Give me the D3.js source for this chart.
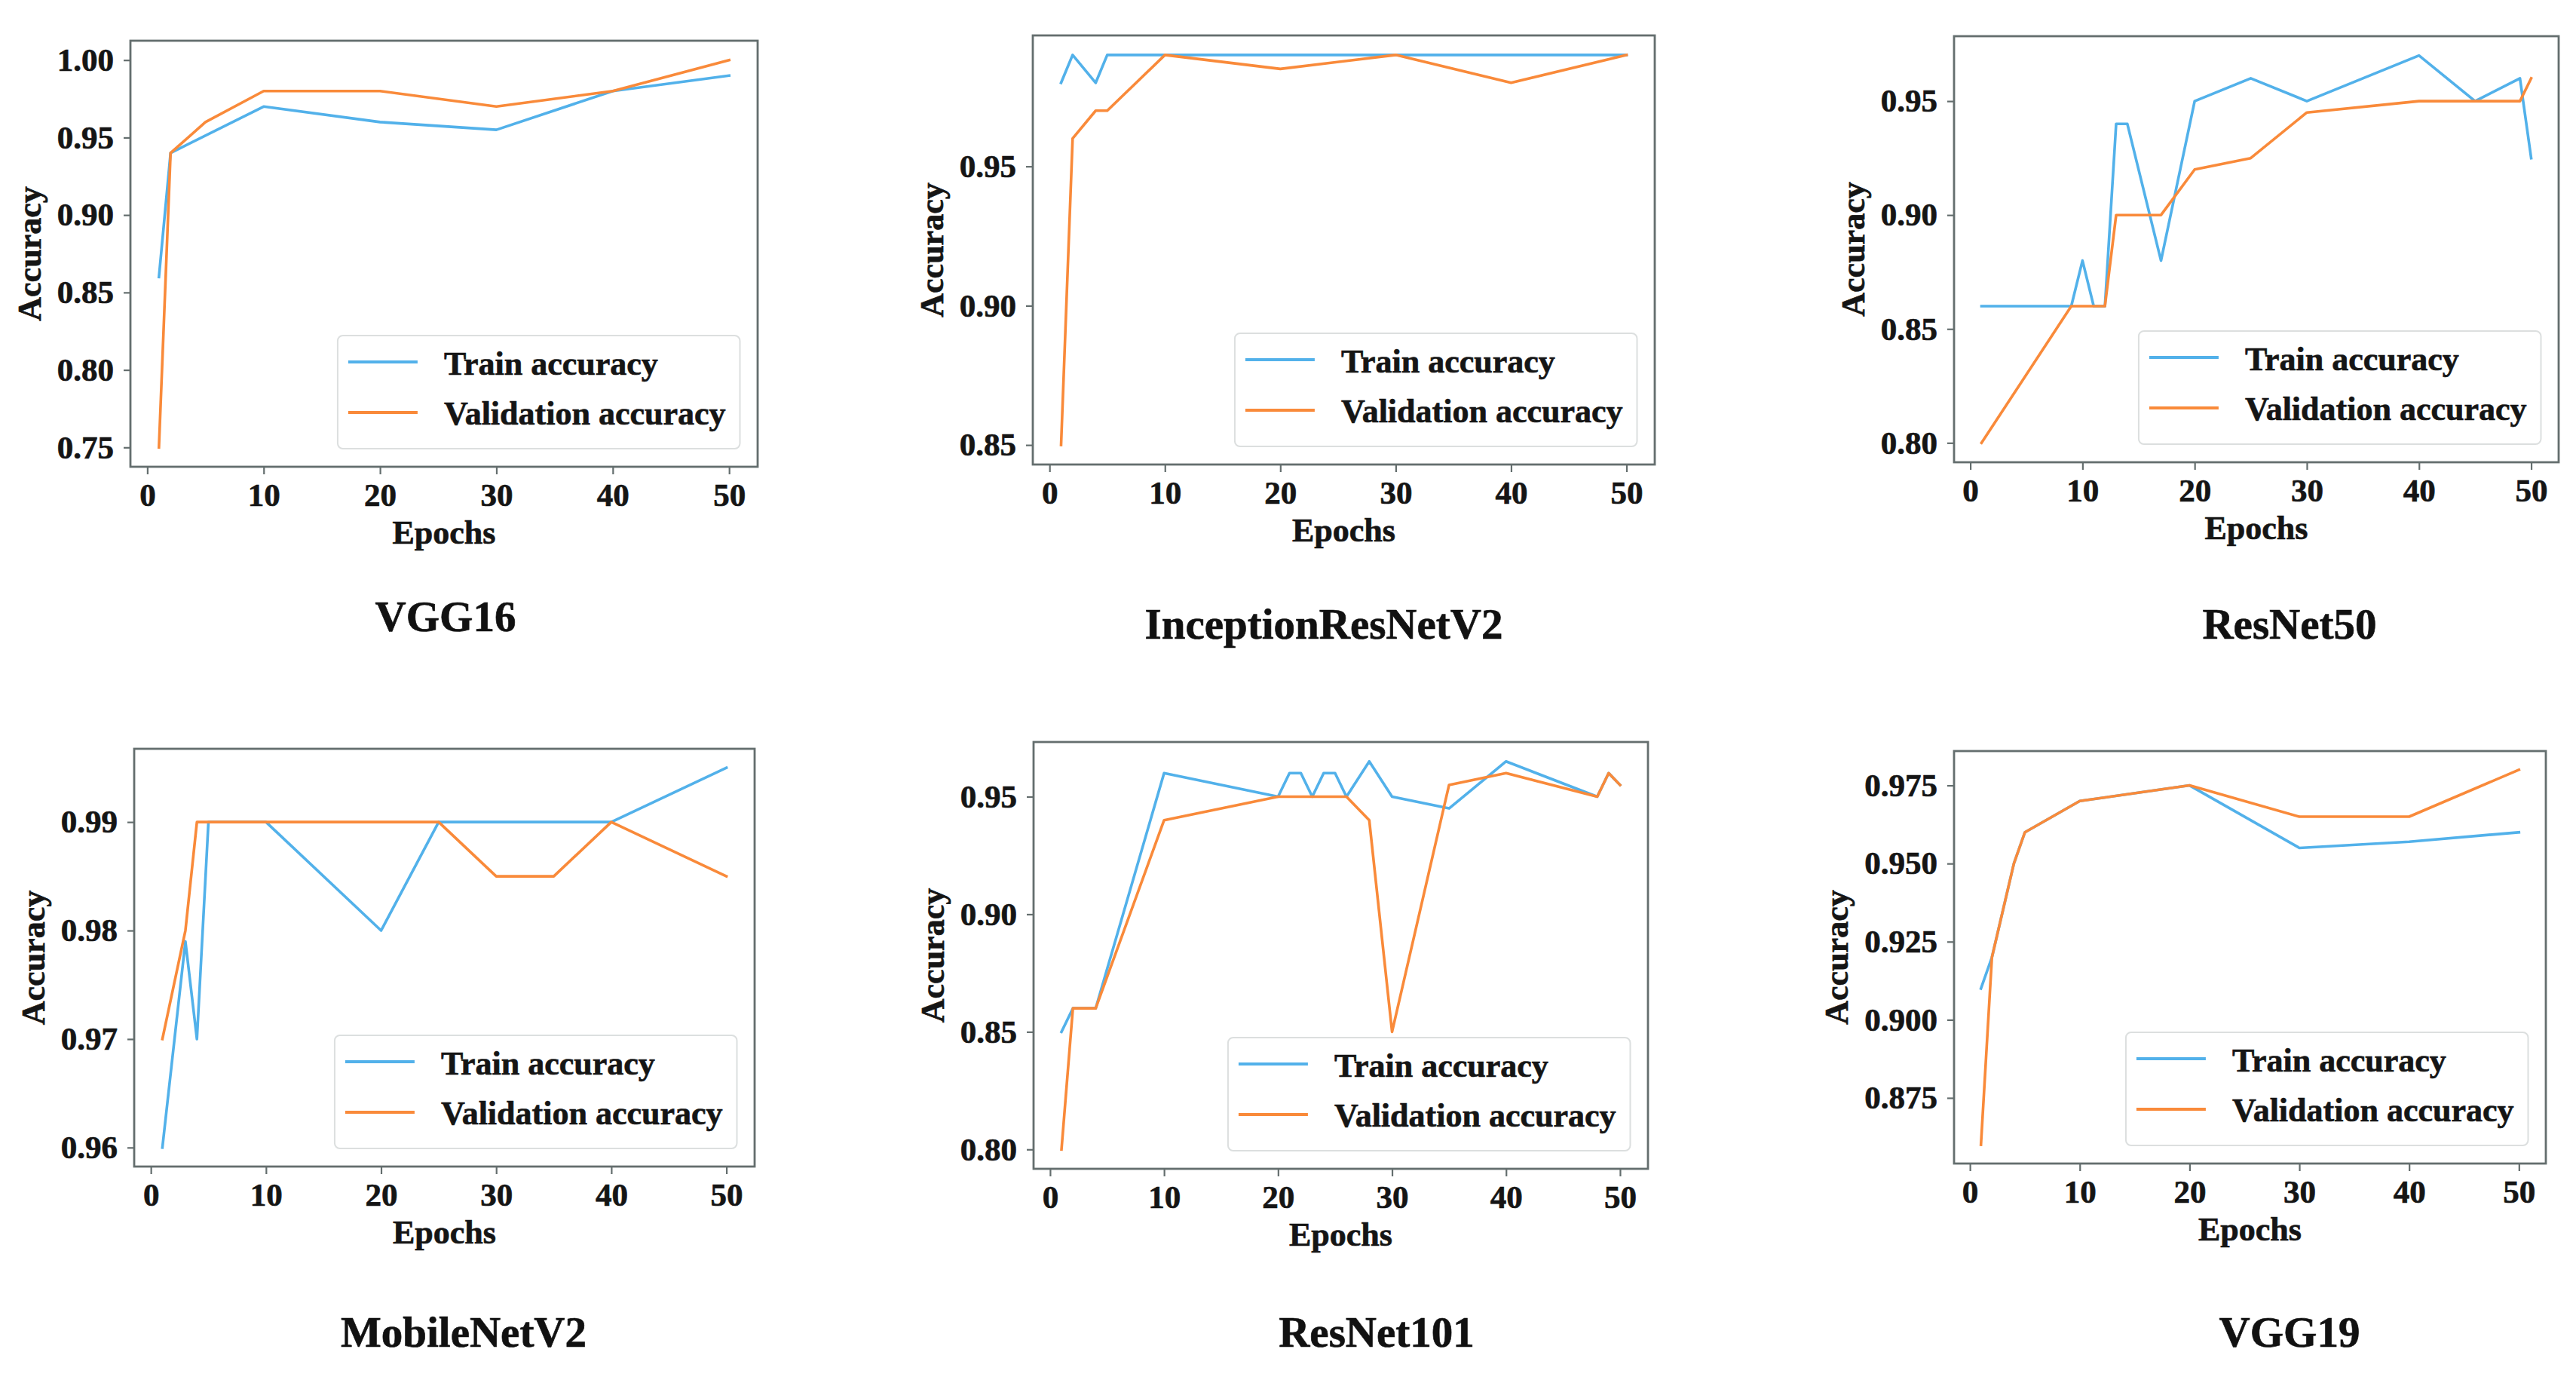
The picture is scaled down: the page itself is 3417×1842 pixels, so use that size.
<!DOCTYPE html>
<html>
<head>
<meta charset="utf-8">
<script src="https://cdn.jsdelivr.net/npm/d3@7"></script>
<style>
  body { margin: 0; background: #fff; }
  svg { display: block; }
  text { stroke: #151515; stroke-width: 0.7px; }
</style>
</head>
<body>
<svg id="chart"></svg>
<script>
// ---- data ----
const xTicks = [0, 10, 20, 30, 40, 50];

const vgg16TrainEpochs = [1, 2, 10, 20, 30, 40, 50];
const vgg16Train = [0.86, 0.94, 0.97, 0.96, 0.955, 0.98, 0.99];
const vgg16ValEpochs = [1, 2, 5, 10, 20, 30, 40, 50];
const vgg16Val = [0.75, 0.94, 0.96, 0.98, 0.98, 0.97, 0.98, 1.00];
const vgg16YTicks = [0.75, 0.80, 0.85, 0.90, 0.95, 1.00];

const incepTrainEpochs = [1, 2, 4, 5, 10, 20, 30, 40, 50];
const incepTrain = [0.98, 0.99, 0.98, 0.99, 0.99, 0.99, 0.99, 0.99, 0.99];
const incepValEpochs = [1, 2, 4, 5, 10, 20, 30, 40, 50];
const incepVal = [0.85, 0.96, 0.97, 0.97, 0.99, 0.985, 0.99, 0.98, 0.99];
const incepYTicks = [0.85, 0.90, 0.95];

const res50TrainEpochs = [1, 9, 10, 11, 12, 13, 14, 17, 20, 25, 30, 40, 45, 49, 50];
const res50Train = [0.86, 0.86, 0.88, 0.86, 0.86, 0.94, 0.94, 0.88, 0.95, 0.96, 0.95, 0.97, 0.95, 0.96, 0.925];
const res50ValEpochs = [1, 9, 12, 13, 17, 20, 25, 30, 40, 49, 50];
const res50Val = [0.80, 0.86, 0.86, 0.90, 0.90, 0.92, 0.925, 0.945, 0.95, 0.95, 0.96];
const res50YTicks = [0.80, 0.85, 0.90, 0.95];

const mobileTrainEpochs = [1, 3, 4, 5, 10, 20, 25, 40, 50];
const mobileTrain = [0.96, 0.979, 0.97, 0.99, 0.99, 0.98, 0.99, 0.99, 0.995];
const mobileValEpochs = [1, 3, 4, 10, 25, 30, 35, 40, 50];
const mobileVal = [0.97, 0.98, 0.99, 0.99, 0.99, 0.985, 0.985, 0.99, 0.985];
const mobileYTicks = [0.96, 0.97, 0.98, 0.99];

const res101TrainEpochs = [1, 2, 4, 10, 20, 21, 22, 23, 24, 25, 26, 28, 30, 35, 40, 48, 49, 50];
const res101Train = [0.85, 0.86, 0.86, 0.96, 0.95, 0.96, 0.96, 0.95, 0.96, 0.96, 0.95, 0.965, 0.95, 0.945, 0.965, 0.95, 0.96, 0.955];
const res101ValEpochs = [1, 2, 4, 10, 20, 26, 28, 30, 35, 40, 48, 49, 50];
const res101Val = [0.80, 0.86, 0.86, 0.94, 0.95, 0.95, 0.94, 0.85, 0.955, 0.96, 0.95, 0.96, 0.955];
const res101YTicks = [0.80, 0.85, 0.90, 0.95];

const vgg19TrainEpochs = [1, 2, 4, 5, 10, 20, 30, 40, 50];
const vgg19Train = [0.91, 0.92, 0.95, 0.96, 0.97, 0.975, 0.955, 0.957, 0.96];
const vgg19ValEpochs = [1, 2, 4, 5, 10, 20, 30, 40, 50];
const vgg19Val = [0.86, 0.92, 0.95, 0.96, 0.97, 0.975, 0.965, 0.965, 0.98];
const vgg19YTicks = [0.875, 0.900, 0.925, 0.950, 0.975];

const seriesNames = ["Train accuracy", "Validation accuracy"];

const models = [
    { name: "VGG16", train: [vgg16TrainEpochs, vgg16Train], val: [vgg16ValEpochs, vgg16Val], yTicks: vgg16YTicks, fmt: ".2f" },
    { name: "InceptionResNetV2", train: [incepTrainEpochs, incepTrain], val: [incepValEpochs, incepVal], yTicks: incepYTicks, fmt: ".2f" },
    { name: "ResNet50", train: [res50TrainEpochs, res50Train], val: [res50ValEpochs, res50Val], yTicks: res50YTicks, fmt: ".2f" },
    { name: "MobileNetV2", train: [mobileTrainEpochs, mobileTrain], val: [mobileValEpochs, mobileVal], yTicks: mobileYTicks, fmt: ".2f" },
    { name: "ResNet101", train: [res101TrainEpochs, res101Train], val: [res101ValEpochs, res101Val], yTicks: res101YTicks, fmt: ".2f" },
    { name: "VGG19", train: [vgg19TrainEpochs, vgg19Train], val: [vgg19ValEpochs, vgg19Val], yTicks: vgg19YTicks, fmt: ".3f" }
];

// ---- layout (axes frames and title spots, in page pixels) ----
const width = 3417;
const height = 1842;
const frames = [
    { left: 173, top: 54, right: 1005, bottom: 619, titleX: 591, titleY: 837 },
    { left: 1370, top: 47, right: 2195, bottom: 616, titleX: 1756, titleY: 847 },
    { left: 2592, top: 48, right: 3394, bottom: 613, titleX: 3037, titleY: 847 },
    { left: 178, top: 993, right: 1001, bottom: 1547, titleX: 615, titleY: 1786 },
    { left: 1371, top: 984, right: 2186, bottom: 1550, titleX: 1826, titleY: 1786 },
    { left: 2592, top: 996, right: 3377, bottom: 1543, titleX: 3037, titleY: 1786 }
];

const colors = ["#52b1ea", "#f98a3a"];
const spine = "#646e6e";
const font = "'Liberation Serif', 'Times New Roman', serif";

const svg = d3.select("#chart")
    .attr("width", width)
    .attr("height", height)
    .style("background", "#fff");

// pad a data extent by 5% each side, the way matplotlib autoscales
function padded(values) {
    const [lo, hi] = d3.extent(values);
    const m = (hi - lo) * 0.05;
    return [lo - m, hi + m];
}

models.forEach((model, i) => {
    const f = frames[i];
    const g = svg.append("g");

    const x = d3.scaleLinear()
        .domain(padded(model.train[0].concat(model.val[0])))
        .range([f.left, f.right]);
    const y = d3.scaleLinear()
        .domain(padded(model.train[1].concat(model.val[1])))
        .range([f.bottom, f.top]);

    const clipId = `clip-${i}`;
    g.append("clipPath").attr("id", clipId)
        .append("rect")
        .attr("x", f.left).attr("y", f.top)
        .attr("width", f.right - f.left).attr("height", f.bottom - f.top);

    // the two curves
    const line = d3.line()
        .x(d => x(d[0]))
        .y(d => y(d[1]));

    [model.train, model.val].forEach((s, k) => {
        g.append("path")
            .datum(d3.zip(s[0], s[1]))
            .attr("clip-path", `url(#${clipId})`)
            .attr("fill", "none")
            .attr("stroke", colors[k])
            .attr("stroke-width", 3.6)
            .attr("stroke-linejoin", "round")
            .attr("stroke-linecap", "square")
            .attr("d", line);
    });

    // x axis
    const xAxis = g.append("g")
        .attr("transform", `translate(0,${f.bottom})`)
        .call(d3.axisBottom(x).tickValues(xTicks).tickFormat(d3.format("d")).tickSize(10).tickPadding(11))
        .call(a => a.select(".domain").remove());

    // y axis
    const yAxis = g.append("g")
        .attr("transform", `translate(${f.left},0)`)
        .call(d3.axisLeft(y).tickValues(model.yTicks).tickFormat(d3.format(model.fmt)).tickSize(9).tickPadding(13))
        .call(a => a.select(".domain").remove());

    [xAxis, yAxis].forEach(a => {
        a.selectAll(".tick line").attr("stroke", spine).attr("stroke-width", 2.2);
        a.selectAll(".tick text")
            .attr("fill", "#151515")
            .style("font-family", font)
            .style("font-weight", "bold")
            .style("font-size", "43px");
    });

    // frame (all four spines)
    g.append("rect")
        .attr("x", f.left).attr("y", f.top)
        .attr("width", f.right - f.left).attr("height", f.bottom - f.top)
        .attr("fill", "none")
        .attr("stroke", spine)
        .attr("stroke-width", 2.8);

    // axis titles
    g.append("text")
        .attr("x", (f.left + f.right) / 2)
        .attr("y", f.bottom + 102)
        .attr("text-anchor", "middle")
        .attr("fill", "#151515")
        .style("font-family", font)
        .style("font-weight", "bold")
        .style("font-size", "44px")
        .text("Epochs");

    const yBox = yAxis.node().getBBox();
    g.append("text")
        .attr("transform", `translate(${f.left + yBox.x - 22},${(f.top + f.bottom) / 2}) rotate(-90)`)
        .attr("text-anchor", "middle")
        .attr("fill", "#151515")
        .style("font-family", font)
        .style("font-weight", "bold")
        .style("font-size", "44px")
        .text("Accuracy");

    // legend, lower right
    const legend = g.append("g");
    const frameRect = legend.append("rect");
    const labels = legend.selectAll("text.lab")
        .data(seriesNames)
        .join("text")
        .attr("class", "lab")
        .attr("x", 141)
        .attr("y", (d, k) => 52 + k * 66)
        .attr("fill", "#151515")
        .style("font-family", font)
        .style("font-weight", "bold")
        .style("font-size", "44px")
        .text(d => d);
    legend.selectAll("line")
        .data(seriesNames)
        .join("line")
        .attr("x1", 14).attr("x2", 106)
        .attr("y1", (d, k) => 35 + k * 67)
        .attr("y2", (d, k) => 35 + k * 67)
        .attr("stroke", (d, k) => colors[k])
        .attr("stroke-width", 3.8);
    const textW = d3.max(labels.nodes(), n => n.getComputedTextLength());
    const boxW = 141 + textW + 19;
    const boxH = 150;
    frameRect
        .attr("width", boxW).attr("height", boxH)
        .attr("rx", 7)
        .attr("fill", "#fff").attr("fill-opacity", 0.8)
        .attr("stroke", "#dcdfdf").attr("stroke-width", 2);
    legend.attr("transform", `translate(${f.right - 23.5 - boxW},${f.bottom - 24 - boxH})`);

    // model name under each panel
    svg.append("text")
        .attr("x", f.titleX)
        .attr("y", f.titleY)
        .attr("text-anchor", "middle")
        .attr("fill", "#111")
        .style("font-family", font)
        .style("font-weight", "bold")
        .style("font-size", "57px")
        .text(model.name);
});
</script>
</body>
</html>
